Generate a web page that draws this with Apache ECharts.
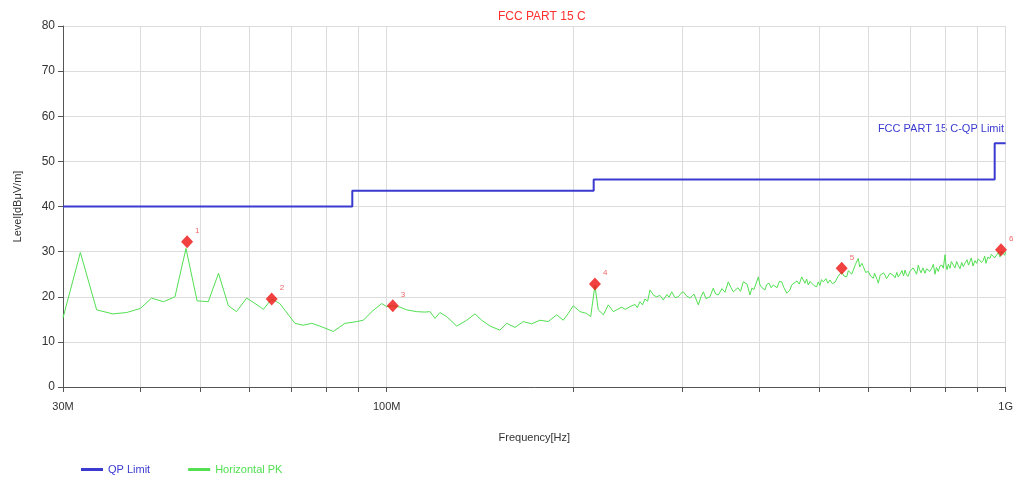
<!DOCTYPE html>
<html>
<head>
<meta charset="utf-8">
<script src="https://cdn.jsdelivr.net/npm/echarts@6/dist/echarts.min.js"></script>
<style>
  html, body { margin: 0; padding: 0; background: #fff; }
  #chart { width: 1016px; height: 482px; }
</style>
</head>
<body>
<div id="chart"></div>
<script>
// frequencies in MHz, levels in dBuV/m
const limitFreqs = [30, 88, 216, 960, 1000];
const limitLevels = [40, 43.5, 46, 54, 54];

const traceFreqs = [
  30.0, 32.0, 34.0, 36.1, 38.0, 40.0, 41.7, 43.6, 45.5, 47.4,
  49.4, 51.5, 53.5, 55.5, 57.2, 59.4, 62.4, 63.2, 65.2, 67.2,
  71.1, 73.3, 75.7, 78.0, 82.0, 85.6, 89.5, 91.7, 94.6, 98.2,
  100.0, 102.3, 105.1, 107.7, 111.8, 115.3, 117.5, 119.7, 121.9, 125.0,
  129.8, 134.7, 138.9, 142.4, 146.9, 152.4, 156.3, 161.2, 166.2, 171.5,
  176.9, 182.4, 188.2, 192.9, 196.5, 200.2, 205.3, 210.4, 213.6, 217.0,
  219.7, 223.9, 228.1, 232.3, 239.7, 243.0, 247.2, 251.9, 254.0, 256.6,
  259.0, 261.4, 264.0, 266.3, 270.0, 273.1, 276.4, 279.8, 283.7, 286.0,
  288.7, 292.3, 295.9, 299.0, 301.5, 305.0, 309.1, 313.7, 316.0, 318.8,
  322.0, 324.8, 328.0, 332.9, 337.0, 340.0, 343.4, 348.1, 352.0, 356.4,
  360.0, 363.1, 369.5, 373.0, 376.8, 382.1, 386.3, 389.0, 392.1, 398.5,
  401.0, 404.0, 408.5, 411.0, 414.6, 418.0, 421.3, 427.2, 431.0, 434.7,
  438.0, 442.9, 448.3, 451.0, 453.9, 460.1, 464.0, 468.2, 474.0, 477.0,
  479.9, 483.0, 486.5, 490.0, 495.1, 498.0, 501.2, 504.0, 507.4, 512.5,
  516.0, 520.2, 525.0, 530.0, 536.0, 543.4, 548.0, 553.6, 557.0, 560.5,
  564.0, 567.4, 572.0, 578.0, 581.0, 583.9, 586.0, 588.9, 594.0, 600.0,
  605.0, 611.3, 614.0, 617.4, 620.0, 622.7, 627.0, 631.4, 635.0, 638.5,
  642.0, 645.6, 650.0, 654.5, 658.0, 662.6, 667.0, 670.8, 675.0, 680.1,
  684.0, 687.7, 691.0, 695.5, 700.0, 705.1, 709.0, 713.8, 718.0, 722.6,
  726.0, 729.9, 735.0, 740.8, 745.0, 749.1, 754.0, 759.5, 764.0, 768.9,
  773.0, 778.4, 783.0, 789.2, 793.0, 798.0, 801.0, 804.0, 808.0, 813.0,
  817.0, 822.1, 828.0, 833.5, 838.0, 843.8, 849.0, 854.2, 860.0, 866.1,
  871.0, 875.8, 880.0, 885.6, 892.0, 897.9, 903.0, 908.9, 914.0, 920.2,
  925.0, 929.4, 936.0, 943.4, 948.0, 954.0, 960.0, 967.2, 973.0, 979.1,
  985.0, 991.2, 996.0, 1000.0
];
const traceLevels = [
  15.3, 29.8, 17.1, 16.2, 16.5, 17.4, 19.7, 18.9, 20.0, 30.7,
  19.1, 18.9, 25.2, 18.0, 16.7, 19.7, 17.8, 17.2, 19.5, 18.5,
  14.1, 13.7, 14.1, 13.5, 12.3, 14.1, 14.5, 14.8, 16.7, 18.5,
  17.8, 18.0, 17.7, 17.1, 16.7, 16.6, 16.7, 15.2, 16.5, 15.6,
  13.5, 14.8, 16.2, 14.8, 13.5, 12.6, 14.1, 13.2, 14.5, 14.0,
  14.8, 14.5, 16.0, 14.8, 16.3, 18.0, 16.7, 16.3, 15.6, 22.5,
  17.1, 16.0, 18.2, 16.7, 17.7, 17.2, 17.8, 18.3, 17.6, 18.9,
  18.2, 19.5, 19.0, 21.5, 20.3, 20.0, 20.3, 19.3, 20.5, 19.9,
  21.1, 19.8, 20.0, 20.8, 21.1, 20.2, 19.7, 20.6, 19.5, 18.2,
  20.0, 21.1, 19.6, 20.0, 21.9, 20.6, 20.4, 21.8, 21.0, 23.3,
  22.0, 21.1, 22.0, 21.2, 23.3, 22.8, 20.4, 21.9, 21.6, 24.4,
  22.6, 22.0, 21.5, 22.7, 23.0, 22.0, 22.6, 22.0, 23.4, 23.3,
  22.1, 20.8, 21.5, 22.6, 22.2, 23.5, 22.8, 24.4, 23.0, 23.9,
  22.6, 23.4, 23.6, 22.5, 22.2, 23.3, 22.5, 23.8, 23.3, 24.0,
  23.0, 23.7, 22.9, 23.2, 24.5, 25.5, 24.6, 24.4, 25.8, 25.6,
  25.0, 25.9, 27.2, 28.5, 26.6, 26.5, 27.4, 26.7, 25.4, 25.6,
  24.6, 24.1, 25.2, 25.0, 23.8, 23.0, 24.8, 24.5, 25.3, 24.8,
  24.0, 23.6, 25.2, 25.6, 24.8, 24.2, 25.4, 24.4, 25.0, 25.8,
  24.6, 25.9, 25.0, 24.5, 25.6, 25.2, 26.4, 26.0, 25.0, 27.0,
  26.0, 25.3, 26.4, 25.2, 26.2, 26.6, 25.6, 26.3, 27.2, 25.0,
  26.5, 25.6, 26.8, 27.0, 26.3, 29.3, 27.0, 26.0, 27.2, 26.3,
  27.8, 27.5, 26.4, 27.8, 27.0, 26.2, 27.6, 26.7, 27.5, 28.2,
  27.0, 27.8, 28.6, 26.8, 28.0, 27.4, 28.4, 28.6, 27.6, 28.1,
  29.0, 27.4, 28.8, 28.5, 29.4, 29.5, 28.6, 29.3, 29.8, 28.8,
  30.0, 29.6, 29.2, 30.0
];

const markerFreqs = [47.6, 65.2, 102.3, 217.0, 543.4, 982.8];
const markerLevels = [32.2, 19.5, 18.0, 22.8, 26.3, 30.4];
const markerLabels = ['1', '2', '3', '4', '5', '6'];

const gridFreqs = [30, 40, 50, 60, 70, 80, 90, 100, 200, 300, 400, 500, 600, 700, 800, 900, 1000];
const labelFreqs = [30, 100, 1000];

const FONT = '"Liberation Sans", Arial, sans-serif';
const BLUE = '#3a3ad0';
const GREEN = '#52e052';
const RED = '#ee1111';

const chart = echarts.init(document.getElementById('chart'), null, { renderer: 'canvas' });

chart.setOption({
  animation: false,
  backgroundColor: '#fff',
  textStyle: { fontFamily: FONT },
  title: {
    text: 'FCC PART 15 C',
    left: 493,
    top: 6,
    textStyle: { color: '#ff3030', fontSize: 12, fontWeight: 'normal', fontFamily: FONT }
  },
  grid: { left: 63, right: 10, top: 26, bottom: 95 },
  legend: {
    left: 76,
    top: 459,
    itemWidth: 22,
    itemHeight: 3,
    itemGap: 38,
    icon: 'rect',
    textStyle: { fontSize: 11, fontFamily: FONT },
    data: [
      { name: 'QP Limit', textStyle: { color: BLUE } },
      { name: 'Horizontal PK', textStyle: { color: GREEN } }
    ]
  },
  xAxis: {
    type: 'log',
    min: 30,
    max: 1000,
    name: 'Frequency[Hz]',
    nameLocation: 'middle',
    nameGap: 45,
    nameTextStyle: { color: '#333', fontSize: 11, fontFamily: FONT },
    axisLine: { lineStyle: { color: '#555', width: 1 } },
    axisTick: { show: true, length: 5, customValues: gridFreqs, lineStyle: { color: '#555' } },
    axisLabel: {
      customValues: labelFreqs,
      color: '#333',
      fontSize: 11,
      margin: 14,
      formatter: v => (Math.round(v) >= 1000 ? '1G' : Math.round(v) + 'M')
    },
    splitLine: { show: true, lineStyle: { color: '#dcdcdc', width: 1 } }
  },
  yAxis: {
    type: 'value',
    min: 0,
    max: 80,
    interval: 10,
    name: 'Level[dBμV/m]',
    nameLocation: 'middle',
    nameGap: 40,
    nameTextStyle: { color: '#333', fontSize: 11, fontFamily: FONT },
    axisLine: { show: true, lineStyle: { color: '#555', width: 1 } },
    axisTick: { show: true, length: 5, lineStyle: { color: '#555' } },
    axisLabel: { color: '#333', fontSize: 12, margin: 8 },
    splitLine: { show: true, lineStyle: { color: '#dcdcdc', width: 1 } }
  },
  graphic: [{
    type: 'text',
    right: 12,
    top: 123,
    style: { text: 'FCC PART 15 C-QP Limit', fill: BLUE, font: '11px ' + FONT }
  }],
  series: [
    {
      name: 'QP Limit',
      type: 'line',
      step: 'end',
      showSymbol: false,
      color: BLUE,
      lineStyle: { color: BLUE, width: 2 },
      data: limitFreqs.map((f, i) => [f, limitLevels[i]]),
      z: 3
    },
    {
      name: 'Horizontal PK',
      type: 'line',
      showSymbol: false,
      color: GREEN,
      lineStyle: { color: GREEN, width: 1 },
      data: traceFreqs.map((f, i) => [f, traceLevels[i]]),
      z: 2
    },
    {
      name: 'Markers',
      type: 'scatter',
      symbol: 'diamond',
      symbolSize: [12, 13],
      itemStyle: { color: RED },
      label: {
        show: true,
        position: 'right',
        offset: [-3, -11],
        color: '#e84040',
        fontSize: 8,
        formatter: p => markerLabels[p.dataIndex]
      },
      data: markerFreqs.map((f, i) => [f, markerLevels[i]]),
      z: 5
    }
  ]
});
</script>
</body>
</html>
